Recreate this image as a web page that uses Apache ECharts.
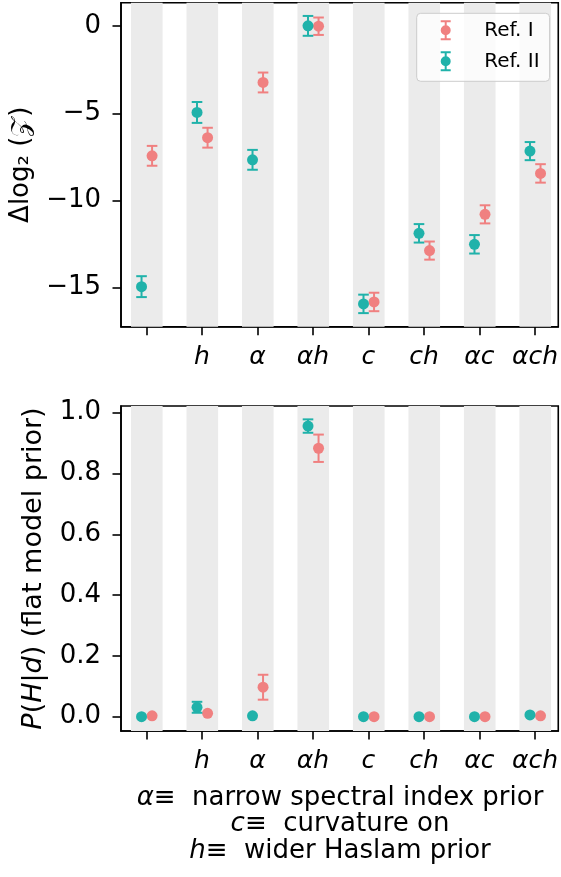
<!DOCTYPE html>
<html>
<head>
<meta charset="utf-8">
<script src="https://cdn.jsdelivr.net/npm/echarts@6/dist/echarts.min.js"></script>
<style>
  html, body { margin: 0; padding: 0; background: #fff; }
  #chart { width: 561px; height: 877px; }
</style>
</head>
<body>
<div id="chart"></div>
<script>
// model labels along x
const categories = ['', 'h', 'α', 'αh', 'c', 'ch', 'αc', 'αch']
const tickIdx = [0, 1, 2, 3, 4, 5, 6, 7]

// top panel: delta log2 evidence
const dlogRef1 = [-7.44, -6.40, -3.23, 0.0, -15.83, -12.88, -10.80, -8.45]
const dlogRef1Err = [0.57, 0.57, 0.57, 0.5, 0.53, 0.52, 0.52, 0.53]
const dlogRef2 = [-14.95, -4.95, -7.67, 0.02, -15.94, -11.89, -12.52, -7.17]
const dlogRef2Err = [0.6, 0.6, 0.57, 0.57, 0.53, 0.53, 0.53, 0.52]
const dlogTicks = [-15, -10, -5, 0]

// bottom panel: model probability
const probRef1 = [0.003, 0.011, 0.097, 0.883, 0.0, 0.0, 0.0, 0.003]
const probRef1Err = [0, 0, 0.041, 0.045, 0, 0, 0, 0]
const probRef2 = [0.0, 0.031, 0.003, 0.956, 0.0, 0.0, 0.0, 0.006]
const probRef2Err = [0, 0.018, 0, 0.022, 0, 0, 0, 0]
const probTicks = [0, 0.2, 0.4, 0.6, 0.8, 1.0]

const PINK = '#f08080'
const TEAL = '#20b2aa'
const FONT = 'DejaVu Sans'

const chart = echarts.init(document.getElementById('chart'))

function pts(vals, errs, shift) {
  return vals.map((v, i) => [i + shift, v, errs[i]])
}

function errItem(params, api) {
  const x = api.value(0), y = api.value(1), e = api.value(2)
  const c = api.coord([x, y])
  const color = api.visual('color')
  const kids = []
  if (e > 0) {
    const t = api.coord([x, y + e]), b = api.coord([x, y - e])
    const ls = { stroke: color, lineWidth: 2 }
    kids.push({ type: 'line', shape: { x1: c[0], y1: t[1], x2: c[0], y2: b[1] }, style: ls })
    kids.push({ type: 'line', shape: { x1: c[0] - 5.3, y1: t[1], x2: c[0] + 5.3, y2: t[1] }, style: ls })
    kids.push({ type: 'line', shape: { x1: c[0] - 5.3, y1: b[1], x2: c[0] + 5.3, y2: b[1] }, style: ls })
  }
  kids.push({ type: 'circle', shape: { cx: c[0], cy: c[1], r: 5.5 }, style: { fill: color } })
  return { type: 'group', children: kids }
}

function bands() {
  return tickIdx.map(i => [{ xAxis: i - 0.28 }, { xAxis: i + 0.29 }])
}

function xAx(grid) {
  return {
    type: 'value', gridIndex: grid, min: -0.46, max: 7.42,
    splitLine: { show: false },
    axisLine: { show: true, onZero: false, lineStyle: { color: '#000', width: 1.6 } },
    axisTick: { customValues: tickIdx, length: 8.5, lineStyle: { color: '#000', width: 1.6 } },
    axisLabel: {
      customValues: tickIdx, formatter: v => categories[Math.round(v)],
      fontFamily: FONT, fontStyle: 'italic', fontSize: 25, color: '#000', margin: 18
    }
  }
}

function yAx(grid, min, max, ticks, fmt, name, gap, nsize) {
  return {
    type: 'value', gridIndex: grid, min: min, max: max,
    splitLine: { show: false },
    axisLine: { show: true, onZero: false, lineStyle: { color: '#000', width: 1.6 } },
    axisTick: { customValues: ticks, length: 8.5, lineStyle: { color: '#000', width: 1.6 } },
    axisLabel: { customValues: ticks, formatter: fmt, fontFamily: FONT, fontSize: 26, color: '#000', margin: 20 },
    name: name, nameLocation: 'middle', nameGap: gap, nameRotate: 90,
    nameTextStyle: {
      fontFamily: FONT, fontSize: nsize, color: '#000',
      rich: { i: { fontFamily: FONT, fontSize: nsize, fontStyle: 'italic', color: '#000' } }
    }
  }
}

const errIcon = 'path://M0,0H10V2H0Z M4,2H6V18H4Z M0,18H10V20H0Z M5,5A5,5 0 1 1 5,15A5,5 0 1 1 5,5Z'

chart.setOption({
  animation: false,
  backgroundColor: '#fff',
  grid: [
    { left: 121, top: 2.7, width: 438.5, height: 324, show: true, borderColor: '#000', borderWidth: 1.6, z: 1 },
    { left: 121, top: 406, width: 438.5, height: 325, show: true, borderColor: '#000', borderWidth: 1.6, z: 1 }
  ],
  legend: {
    orient: 'vertical', left: 416.7, top: 13.3,
    padding: [7, 10, 10, 24], itemGap: 11, itemWidth: 11, itemHeight: 20,
    backgroundColor: 'rgba(255,255,255,0.8)', borderColor: '#cccccc', borderWidth: 1, borderRadius: 4,
    textStyle: { fontFamily: FONT, fontSize: 20, color: '#000', padding: [0, 0, 0, 28] },
    data: [
      { name: 'Ref. I', icon: errIcon, itemStyle: { color: PINK } },
      { name: 'Ref. II', icon: errIcon, itemStyle: { color: TEAL } }
    ]
  },
  xAxis: [xAx(0), xAx(1)],
  yAxis: [
    yAx(0, -17.25, 1.35, dlogTicks, v => String(v).replace('-', '\u2212'), 'Δlog₂ (𝒵)', 87, 26),
    yAx(1, -0.047, 1.022, probTicks, v => v.toFixed(1), '{i|P}({i|H}|{i|d}) (flat model prior)', 74, 27)
  ],
  graphic: [{
    type: 'text', x: 340, y: 784.5, z: 10,
    style: {
      text: '{i|α}≡  narrow spectral index prior\n{i|c}≡  curvature on\n{i|h}≡  wider Haslam prior',
      align: 'center', verticalAlign: 'top',
      fontFamily: FONT, fontSize: 26, lineHeight: 26.7, fill: '#000',
      rich: { i: { fontFamily: FONT, fontSize: 26, fontStyle: 'italic', lineHeight: 26.7 } }
    }
  }],
  series: [
    {
      type: 'scatter', xAxisIndex: 0, yAxisIndex: 0, data: [], silent: true, z: 0,
      markArea: { silent: true, itemStyle: { color: '#ebebeb' }, data: bands() }
    },
    {
      type: 'scatter', xAxisIndex: 1, yAxisIndex: 1, data: [], silent: true, z: 0,
      markArea: { silent: true, itemStyle: { color: '#ebebeb' }, data: bands() }
    },
    { name: 'Ref. I', type: 'custom', xAxisIndex: 0, yAxisIndex: 0, color: PINK, z: 5,
      renderItem: errItem, data: pts(dlogRef1, dlogRef1Err, 0.1) },
    { name: 'Ref. II', type: 'custom', xAxisIndex: 0, yAxisIndex: 0, color: TEAL, z: 5,
      renderItem: errItem, data: pts(dlogRef2, dlogRef2Err, -0.09) },
    { name: 'Ref. I', type: 'custom', xAxisIndex: 1, yAxisIndex: 1, color: PINK, z: 5,
      renderItem: errItem, data: pts(probRef1, probRef1Err, 0.1) },
    { name: 'Ref. II', type: 'custom', xAxisIndex: 1, yAxisIndex: 1, color: TEAL, z: 5,
      renderItem: errItem, data: pts(probRef2, probRef2Err, -0.09) }
  ]
})
</script>
</body>
</html>
